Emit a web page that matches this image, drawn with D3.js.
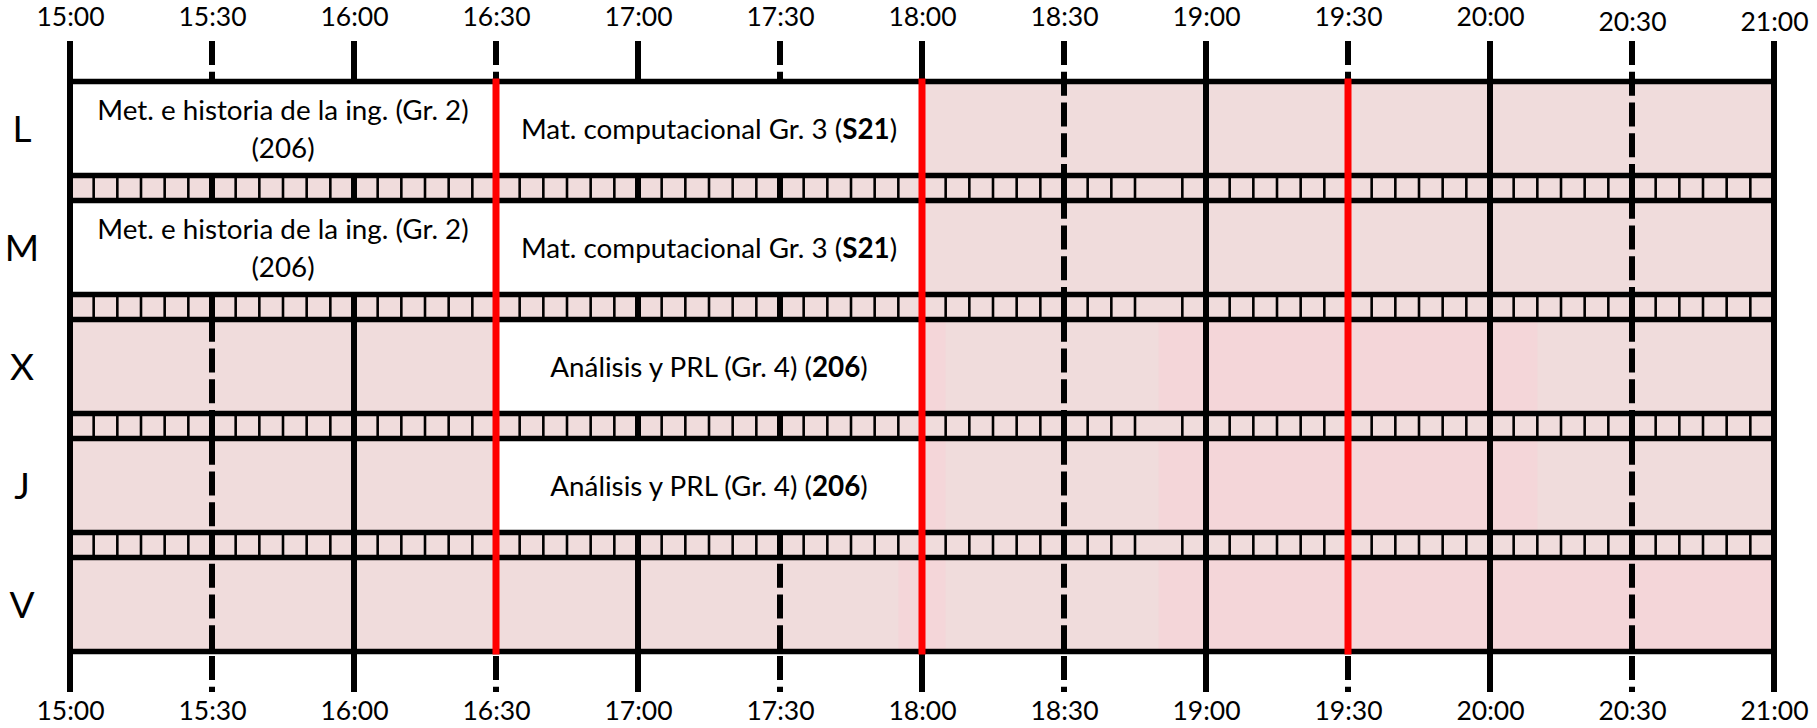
<!DOCTYPE html>
<html>
<head>
<meta charset="utf-8">
<script src="https://cdn.jsdelivr.net/npm/d3@7"></script>
<style>
  html, body { margin: 0; padding: 0; background: #ffffff; }
  svg { display: block; }
  text { font-family: Lato, "Noto Sans", sans-serif; fill: #000; }
</style>
</head>
<body>
<svg id="chart" width="1817" height="728"></svg>
<script>
// ---------- data ----------
const days = ["L", "M", "X", "J", "V"];
const timeTicks = ["15:00","15:30","16:00","16:30","17:00","17:30","18:00","18:30","19:00","19:30","20:00","20:30","21:00"];
const classDays   = ["L", "L", "M", "M", "X", "J"];
const classStarts = ["15:00", "16:30", "15:00", "16:30", "16:30", "16:30"];
const classEnds   = ["16:30", "18:00", "16:30", "18:00", "18:00", "18:00"];
const classLabels = [
  ["Met. e historia de la ing. (Gr. 2)", "(206)"],
  ["Mat. computacional Gr. 3 (**S21**)"],
  ["Met. e historia de la ing. (Gr. 2)", "(206)"],
  ["Mat. computacional Gr. 3 (**S21**)"],
  ["Análisis y PRL (Gr. 4) (**206**)"],
  ["Análisis y PRL (Gr. 4) (**206**)"]
];
const redTimes = ["16:30", "18:00", "19:30"];
const shadeDays   = ["X", "X", "J", "J", "V", "V"];
const shadeStarts = ["17:55", "18:50", "17:55", "18:50", "17:55", "18:50"];
const shadeEnds   = ["18:05", "20:10", "18:05", "20:10", "18:05", "21:00"];
const stripGaps = ["18:50"];

// ---------- helpers ----------
const toMin = s => { const [h, m] = s.split(":").map(Number); return h * 60 + m; };
const fmt = m => `${Math.floor(m / 60)}:${String(m % 60).padStart(2, "0")}`;

const svg = d3.select("#chart");
const LIGHT = "#f0dcdc", PINK = "#f4d6d9";
const tMin = toMin(timeTicks[0]), tMax = toMin(timeTicks[timeTicks.length - 1]);

const x = d3.scaleLinear().domain([tMin, tMax]).range([70, 1774]);
const y = d3.scaleBand().domain(days).range([81.5, 651.5]).paddingInner(25 / 119).paddingOuter(0);
const bw = y.bandwidth();
const yTop = y(days[0]), yBot = y(days[days.length - 1]) + bw;
const lineTop = 41, lineBot = 692;

// background
svg.append("rect").attr("x", x(tMin)).attr("y", yTop).attr("width", x(tMax) - x(tMin)).attr("height", yBot - yTop).attr("fill", LIGHT);

// pinker shading
svg.append("g").selectAll("rect").data(shadeDays.map((d, i) => ({ d, s: toMin(shadeStarts[i]), e: toMin(shadeEnds[i]) })))
  .join("rect")
  .attr("x", o => x(o.s)).attr("width", o => x(o.e) - x(o.s))
  .attr("y", o => y(o.d)).attr("height", bw)
  .attr("fill", PINK);

// interior grid lines (half hours dashed, hours solid)
const gridTimes = timeTicks.map(toMin).filter(m => m > tMin && m < tMax);
svg.append("g").selectAll("line").data(gridTimes).join("line")
  .attr("x1", m => x(m)).attr("x2", m => x(m))
  .attr("y1", lineTop).attr("y2", lineBot)
  .attr("stroke", "#000").attr("stroke-width", 6)
  .attr("stroke-dasharray", m => (m % 60 === 30 ? "24 6.75" : null));

// strips between rows with 5-minute marks
const strips = days.slice(0, -1).map((d, i) => ({ top: y(d) + bw, bot: y(days[i + 1]) }));
const gapSet = new Set(stripGaps.map(toMin));
const fiveMin = d3.range(tMin + 5, tMax, 5).filter(m => !gapSet.has(m));
const stripG = svg.append("g");
strips.forEach(s => {
  stripG.append("g").selectAll("line").data(fiveMin).join("line")
    .attr("x1", m => x(m)).attr("x2", m => x(m))
    .attr("y1", s.top).attr("y2", s.bot)
    .attr("stroke", "#000")
    .attr("stroke-width", m => (m % 30 === 0 ? 6 : 2.6));
});

// class boxes
const classes = classDays.map((d, i) => ({ d, s: toMin(classStarts[i]), e: toMin(classEnds[i]), lines: classLabels[i] }));
const cg = svg.append("g").selectAll("g").data(classes).join("g");
cg.append("rect")
  .attr("x", c => x(c.s)).attr("width", c => x(c.e) - x(c.s))
  .attr("y", c => y(c.d)).attr("height", bw)
  .attr("fill", "#ffffff");
cg.each(function (c) {
  const g = d3.select(this);
  const cx = (x(c.s) + x(c.e)) / 2, cy = y(c.d) + bw / 2;
  const n = c.lines.length, lh = 38;
  c.lines.forEach((ln, k) => {
    const t = g.append("text")
      .attr("x", cx).attr("y", cy + (k - (n - 1) / 2) * lh)
      .attr("dy", "0.36em").attr("text-anchor", "middle")
      .attr("font-size", 27.8);
    ln.split("**").forEach((part, j) => {
      if (!part) return;
      t.append("tspan").attr("font-weight", j % 2 ? 700 : 400).text(part);
    });
  });
});

// horizontal row lines
const hLines = [];
days.forEach(d => { hLines.push(y(d)); hLines.push(y(d) + bw); });
svg.append("g").selectAll("line").data(hLines).join("line")
  .attr("x1", x(tMin)).attr("x2", x(tMax))
  .attr("y1", v => v).attr("y2", v => v)
  .attr("stroke", "#000").attr("stroke-width", 5.5);

// outer borders
svg.append("g").selectAll("line").data([tMin, tMax]).join("line")
  .attr("x1", m => x(m)).attr("x2", m => x(m))
  .attr("y1", lineTop).attr("y2", lineBot)
  .attr("stroke", "#000").attr("stroke-width", 6);

// red lines
svg.append("g").selectAll("line").data(redTimes.map(toMin)).join("line")
  .attr("x1", m => x(m)).attr("x2", m => x(m))
  .attr("y1", yTop - 3).attr("y2", yBot + 3)
  .attr("stroke", "#ff0000").attr("stroke-width", 7);

// axes labels
const tickVals = timeTicks.map(toMin);
const topAxis = svg.append("g").attr("transform", "translate(0,25.5)")
  .call(d3.axisTop(x).tickValues(tickVals).tickFormat(fmt).tickSize(0).tickPadding(0));
const botAxis = svg.append("g").attr("transform", "translate(0,701)")
  .call(d3.axisBottom(x).tickValues(tickVals).tickFormat(fmt).tickSize(0).tickPadding(0));
[topAxis, botAxis].forEach(a => {
  a.select(".domain").remove();
  a.selectAll("text").attr("font-size", 26.5).attr("font-family", "Lato, 'Noto Sans', sans-serif").attr("fill", "#000");
});
topAxis.selectAll(".tick").filter(m => m >= toMin("20:30")).select("text").attr("y", 5);

// day labels
svg.append("g").selectAll("text").data(days).join("text")
  .attr("x", 22).attr("y", d => y(d) + bw / 2)
  .attr("dy", "0.36em").attr("text-anchor", "middle")
  .attr("font-size", 37)
  .text(d => d);
</script>
</body>
</html>
